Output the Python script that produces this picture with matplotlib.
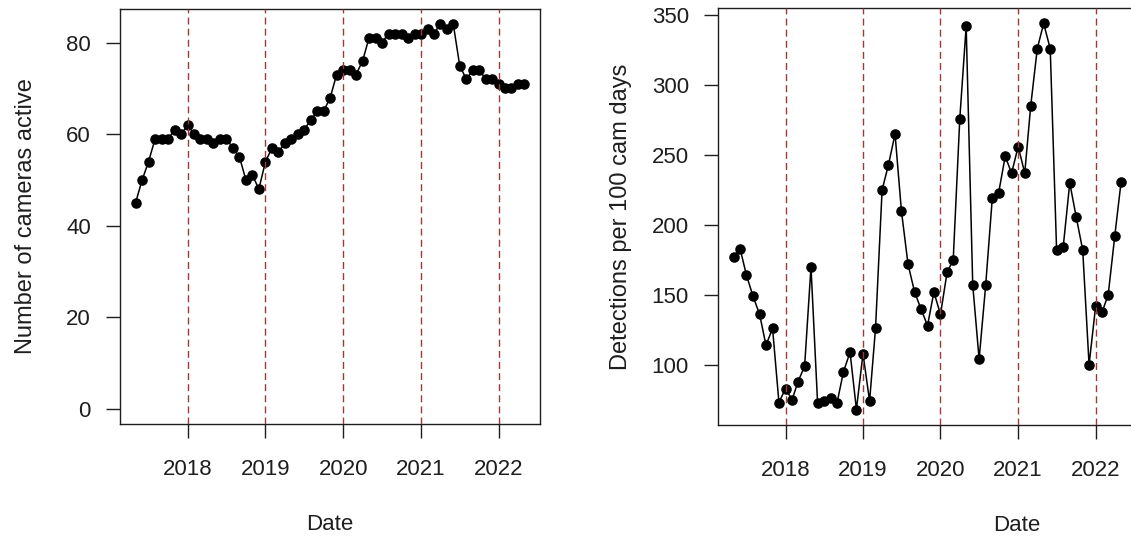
import matplotlib
matplotlib.use("Agg")
import matplotlib.pyplot as plt
import pandas as pd

plt.rcParams["font.family"] = ["Liberation Sans", "DejaVu Sans"]

# Monthly survey periods, May 2017 to May 2022
months = pd.date_range("2017-05-01", "2022-05-01", freq="MS")

cameras_active = [
    45, 50, 54, 59, 59, 59, 61, 60,                      # 2017 (May-Dec)
    62, 60, 59, 59, 58, 59, 59, 57, 55, 50, 51, 48,      # 2018
    54, 57, 56, 58, 59, 60, 61, 63, 65, 65, 68, 73,      # 2019
    74, 74, 73, 76, 81, 81, 80, 82, 82, 82, 81, 82,      # 2020
    82, 83, 82, 84, 83, 84, 75, 72, 74, 74, 72, 72,      # 2021
    71, 70, 70, 71, 71,                                  # 2022 (Jan-May)
]

detections_per_100 = [
    177, 183, 164, 149, 136, 114, 126, 73,                       # 2017
    83, 75, 88, 99, 170, 73, 74, 76, 73, 95, 109, 68,            # 2018
    108, 74, 126, 225, 243, 265, 210, 172, 152, 140, 128, 152,   # 2019
    136, 166, 175, 276, 342, 157, 104, 157, 219, 223, 249, 237,  # 2020
    256, 237, 285, 326, 344, 326, 182, 184, 230, 206, 182, 100,  # 2021
    142, 138, 150, 192, 231,                                     # 2022
]

years = [2018, 2019, 2020, 2021, 2022]
cam_yticks = [0, 20, 40, 60, 80]
det_yticks = [100, 150, 200, 250, 300, 350]

INK = "#1e1e1e"
VLINE = "#9a3a3a"
FS = 16
LABEL_FS = 17

fig = plt.figure(figsize=(11.31, 5.40), dpi=100)
W, H = 1131, 540
ax1 = fig.add_axes([120 / W, 116 / H, 420 / W, 415 / H])
ax2 = fig.add_axes([718 / W, 115 / H, 598 / W, 417 / H])

span = months[-1] - months[0]
pad = span * 0.04
x_left = months[0] - pad
year_starts = [pd.Timestamp(f"{y}-01-01") for y in years]


def style(ax, values, yticks, ylabel, ylim, ylabelpad):
    ax.plot(months, values, "-o", color="black", lw=1.1, ms=7.6,
            markeredgewidth=0, zorder=2)
    for ys in year_starts:
        ax.axvline(ys, color=VLINE, lw=1.0, ls=(0, (5, 3)), zorder=3)
    ax.set_ylim(*ylim)
    ax.set_xticks(year_starts)
    ax.set_xticklabels([str(y) for y in years])
    ax.set_yticks(yticks)
    ax.set_yticklabels([str(t) for t in yticks])
    ax.tick_params(direction="out", length=10, width=1.0, labelsize=FS,
                   colors=INK, pad=11)
    ax.tick_params(axis="x", pad=15)
    for s in ax.spines.values():
        s.set_linewidth(1.0)
        s.set_color(INK)
    ax.set_xlabel("Date", fontsize=FS, color=INK, labelpad=25)
    ax.set_ylabel(ylabel, fontsize=LABEL_FS, color=INK, labelpad=ylabelpad)


lo, hi = min(cameras_active), max(cameras_active)
style(ax1, cameras_active, cam_yticks, "Number of cameras active",
      (0 - 0.04 * hi, hi * 1.04), 21)
ax1.set_xlim(x_left, months[-1] + pad)

lo, hi = min(detections_per_100), max(detections_per_100)
style(ax2, detections_per_100, det_yticks, "Detections per 100 cam days",
      (lo - 0.04 * (hi - lo), hi + 0.04 * (hi - lo)), 14)
ax2.set_xlim(x_left, pd.Timestamp("2024-11-04"))

fig.savefig("out.png", dpi=100)
